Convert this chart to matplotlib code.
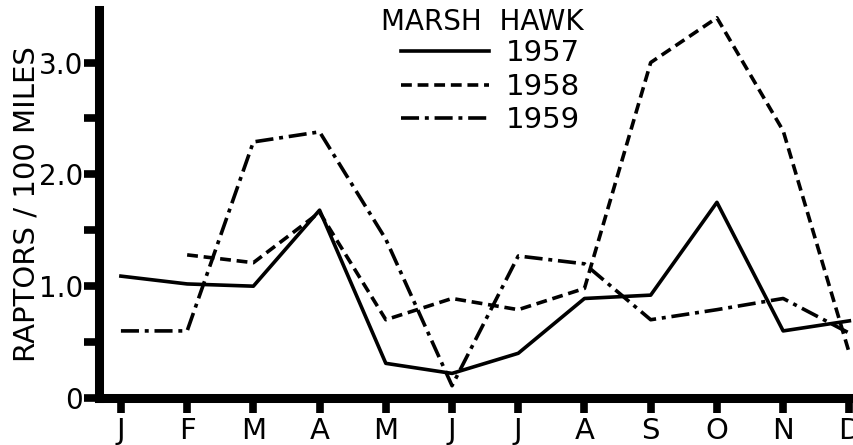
import numpy as np
import matplotlib.pyplot as plt

plt.rcParams['font.family'] = ['DejaVu Sans']

# monthly counts of marsh hawks, raptors per 100 miles
months = ['J', 'F', 'M', 'A', 'M', 'J', 'J', 'A', 'S', 'O', 'N', 'D']
y1957 = [1.09, 1.02, 1.00, 1.68, 0.31, 0.22, 0.40, 0.89, 0.92, 1.75, 0.60, 0.69]
y1958 = [np.nan, 1.28, 1.21, 1.66, 0.70, 0.89, 0.79, 0.98, 3.00, 3.40, 2.39, 0.40]
y1959 = [0.60, 0.60, 2.29, 2.38, 1.42, 0.11, 1.27, 1.20, 0.70, 0.79, 0.89, 0.58]

x = np.arange(len(months))

fig = plt.figure(figsize=(8.54, 4.45), dpi=100)
ax = fig.add_axes([0.1160, 0.1056, 0.8840, 0.8720])

lw = 2.6
ax.plot(x, y1957, color='black', lw=lw, label='1957')
ax.plot(x, y1958, color='black', lw=lw, linestyle=(0, (3.0, 1.6)), label='1958')
ax.plot(x, y1959, color='black', lw=lw, linestyle=(0, (5.0, 1.6, 1.1, 1.6)), label='1959')

ax.set_xlim(-0.33, 11.07)
ax.set_ylim(0, 3.47)

for s in ['top', 'right']:
    ax.spines[s].set_visible(False)
for s in ['left', 'bottom']:
    ax.spines[s].set_linewidth(6.5)
    ax.spines[s].set_capstyle('projecting')

ax.set_xticks(x)
ax.set_xticklabels(months, fontsize=21)
ax.set_yticks(np.arange(0, 3.01, 0.5))
ax.set_yticklabels(['0', '', '1.0', '', '2.0', '', '3.0'], fontsize=20)
ax.tick_params(axis='both', direction='out', length=10.5, width=5.5, color='black')
ax.tick_params(axis='x', pad=3)
ax.tick_params(axis='y', pad=1)

ax.set_ylabel('RAPTORS / 100 MILES', fontsize=21)
ax.yaxis.set_label_coords(-0.077, 0.5)

ax.text(0.373, 0.948, 'MARSH  HAWK', transform=ax.transAxes, fontsize=20,
        ha='left', va='baseline')
ax.legend(frameon=False, fontsize=21, handlelength=3.0, handletextpad=0.6,
          labelspacing=0.18, loc='upper left', bbox_to_anchor=(0.40, 0.924),
          borderpad=0, borderaxespad=0)

plt.savefig('out.png', dpi=100)
